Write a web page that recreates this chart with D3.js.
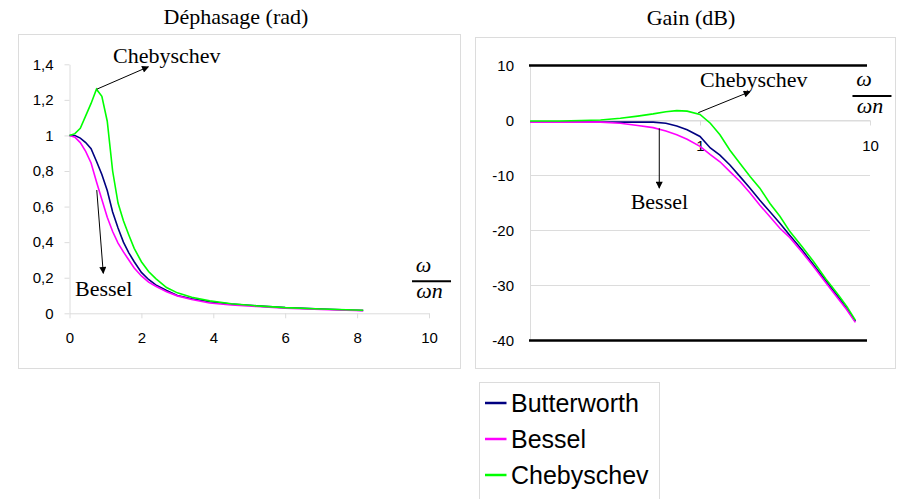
<!DOCTYPE html>
<html>
<head>
<meta charset="utf-8">
<script src="https://cdn.jsdelivr.net/npm/d3@7"></script>
<style>
  html, body { margin: 0; padding: 0; background: #fff; }
  svg { display: block; }
</style>
</head>
<body>
<svg id="chart" width="912" height="499"></svg>
<script>
// ---------------- DATA ----------------
const seriesNames = ["Butterworth", "Bessel", "Chebyschev"];
const seriesColors = ["#000080", "#ff00ff", "#00ff00"];

// Phase chart (Déphasage, rad) vs ω/ωn (linear)
const phaseX = [0, 0.15, 0.3, 0.45, 0.6, 0.75, 0.9, 1.05, 1.2, 1.35, 1.5, 1.65, 1.8, 2.0, 2.2, 2.4, 2.7, 3.0, 3.4, 3.9, 4.5, 5.2, 6.0, 7.0, 8.17];
const phaseButterworth = [1.0, 1.0, 0.985, 0.96, 0.925, 0.855, 0.78, 0.69, 0.57, 0.48, 0.40, 0.34, 0.29, 0.23, 0.19, 0.16, 0.128, 0.10, 0.082, 0.065, 0.052, 0.042, 0.032, 0.024, 0.016];
const phaseBessel      = [1.0, 0.99, 0.96, 0.91, 0.845, 0.74, 0.64, 0.54, 0.46, 0.395, 0.345, 0.30, 0.255, 0.21, 0.175, 0.152, 0.121, 0.098, 0.078, 0.058, 0.047, 0.038, 0.029, 0.021, 0.015];
const phaseChebyschev  = [1.0, 1.01, 1.04, 1.11, 1.18, 1.26, 1.22, 1.08, 0.80, 0.62, 0.52, 0.44, 0.365, 0.29, 0.235, 0.195, 0.145, 0.115, 0.09, 0.07, 0.054, 0.042, 0.032, 0.024, 0.017];
const phaseXTicks = [0, 2, 4, 6, 8, 10];
const phaseYTicks = [0, 0.2, 0.4, 0.6, 0.8, 1, 1.2, 1.4];

// Gain chart (dB) vs ω/ωn (log)
const gainX = [0.1, 0.15, 0.2, 0.26, 0.34, 0.43, 0.53, 0.63, 0.73, 0.84, 1, 1.15, 1.31, 1.5, 1.72, 1.97, 2.25, 2.58, 2.95, 3.38, 4, 4.64, 5.5, 6.5, 7.3, 8.2];
const gainButterworth = [-0.3, -0.3, -0.3, -0.3, -0.3, -0.3, -0.3, -0.5, -1.0, -1.7, -2.9, -5.0, -6.3, -8.1, -10.2, -12.3, -14.5, -16.6, -18.7, -20.9, -23.6, -26.2, -29.2, -32.1, -34.2, -36.5];
const gainBessel      = [-0.3, -0.3, -0.3, -0.3, -0.5, -0.9, -1.3, -1.9, -2.6, -3.4, -4.7, -6.2, -7.5, -9.3, -11.1, -13.2, -15.4, -17.5, -19.6, -21.3, -24.0, -26.5, -29.5, -32.4, -34.4, -36.7];
const gainChebyschev  = [-0.1, -0.1, 0, 0.1, 0.4, 0.8, 1.2, 1.6, 1.8, 1.7, 1.1, -0.5, -2.6, -5.4, -7.8, -10.2, -12.3, -15.1, -17.4, -20.2, -23.0, -25.6, -28.8, -31.7, -33.8, -36.3];
const gainXTicks = [1, 10];
const gainYTicks = [10, 0, -10, -20, -30, -40];
const gainFrameLines = [10, -40];

// Annotations (in data coordinates)
const phaseAnnotations = [
  { text: "Chebyschev", x: 1.21, y: 1.409, from: [0.76, 1.26], to: [2.195, 1.386] },
  { text: "Bessel", x: 0.153, y: 0.097, from: [0.758, 0.693], to: [0.94, 0.225] }
];
const gainAnnotations = [
  { text: "Chebyschev", x: 1.0, y: 6.1, from: [0.977, 1.42], to: [1.97, 5.24] },
  { text: "Bessel", x: 0.391, y: -16.1, from: [0.576, -1.42], to: [0.576, -12.3] }
];
const phaseFraction = { x: 10.07, num: 0.235, bar: 0.18, den: 0.085 };
const gainFraction = { x: 10.27, num: 6.3, bar: 4.45, den: 1.3 };

// ---------------- DRAW ----------------
const svg = d3.select("#chart");
const SERIF = "'Liberation Serif', 'Times New Roman', serif";
const SANS = "'Liberation Sans', Arial, sans-serif";
const GRID = "#dcdcdc";

const defs = svg.append("defs");
defs.append("marker")
  .attr("id", "arrow")
  .attr("viewBox", "0 0 10 10")
  .attr("refX", 9).attr("refY", 5)
  .attr("markerWidth", 9).attr("markerHeight", 7)
  .attr("markerUnits", "userSpaceOnUse")
  .attr("orient", "auto")
  .append("path").attr("d", "M0,0 L10,5 L0,10 Z").attr("fill", "#000");

// Panel frames
svg.append("rect").attr("x", 18.5).attr("y", 34.5).attr("width", 442).attr("height", 334)
  .attr("fill", "none").attr("stroke", GRID);
svg.append("rect").attr("x", 475.5).attr("y", 37.5).attr("width", 420).attr("height", 331)
  .attr("fill", "none").attr("stroke", GRID);

// Titles
svg.append("text").attr("x", 236).attr("y", 24).attr("text-anchor", "middle")
  .attr("font-family", SERIF).attr("font-size", 22).text("Déphasage (rad)");
svg.append("text").attr("x", 691).attr("y", 25).attr("text-anchor", "middle")
  .attr("font-family", SERIF).attr("font-size", 22).text("Gain (dB)");

function styleAxis(g) {
  g.select(".domain").attr("stroke", GRID);
  g.selectAll(".tick line").attr("stroke", GRID);
  g.selectAll(".tick text").attr("font-family", SANS).attr("font-size", 15).attr("fill", "#000");
}

// ----- Phase chart -----
const px = d3.scaleLinear().domain([0, 10]).range([69.5, 429]);
const py = d3.scaleLinear().domain([0, 1.4]).range([313.3, 64.3]);
const fmtComma = d => String(d).replace(".", ",");

svg.append("g").attr("transform", `translate(0,${py(0)})`)
  .call(d3.axisBottom(px).tickValues(phaseXTicks).tickSize(5).tickPadding(14).tickSizeOuter(0).tickFormat(d => d))
  .call(styleAxis);
svg.append("g").attr("transform", `translate(${px(0)},0)`)
  .call(d3.axisLeft(py).tickValues(phaseYTicks).tickSize(5).tickPadding(11).tickSizeOuter(0).tickFormat(fmtComma))
  .call(styleAxis);

const phaseSeries = [phaseButterworth, phaseBessel, phaseChebyschev];
const phaseLine = d3.line().x((d, i) => px(phaseX[i])).y(d => py(d));
phaseSeries.forEach((s, k) => {
  svg.append("path").datum(s).attr("d", phaseLine)
    .attr("fill", "none").attr("stroke", seriesColors[k]).attr("stroke-width", 1.6);
});

phaseAnnotations.forEach(a => {
  svg.append("text").attr("x", px(a.x)).attr("y", py(a.y))
    .attr("font-family", SERIF).attr("font-size", 22).text(a.text);
  svg.append("line")
    .attr("x1", px(a.from[0])).attr("y1", py(a.from[1]))
    .attr("x2", px(a.to[0])).attr("y2", py(a.to[1]))
    .attr("stroke", "#000").attr("stroke-width", 1).attr("marker-end", "url(#arrow)");
});

function drawFraction(cx, yNum, yBar, yDen) {
  svg.append("text").attr("x", cx - 8).attr("y", yNum).attr("text-anchor", "middle")
    .attr("font-family", SERIF).attr("font-style", "italic").attr("font-size", 22).text("ω");
  svg.append("line").attr("x1", cx - 19.5).attr("x2", cx + 19.5).attr("y1", yBar).attr("y2", yBar)
    .attr("stroke", "#000").attr("stroke-width", 2);
  svg.append("text").attr("x", cx - 2).attr("y", yDen).attr("text-anchor", "middle")
    .attr("font-family", SERIF).attr("font-style", "italic").attr("font-size", 22).text("ωn");
}
drawFraction(px(phaseFraction.x), py(phaseFraction.num), py(phaseFraction.bar), py(phaseFraction.den));

// ----- Gain chart -----
const gx = d3.scaleLog().domain([0.1, 10]).range([530, 870]);
const gy = d3.scaleLinear().domain([-40, 10]).range([340.5, 65.5]);

// gridlines
svg.append("g").selectAll("line").data(gainYTicks.filter(v => !gainFrameLines.includes(v)))
  .join("line")
  .attr("x1", gx(0.1)).attr("x2", gx(10))
  .attr("y1", d => gy(d)).attr("y2", d => gy(d))
  .attr("stroke", GRID);
// y axis
svg.append("g").attr("transform", `translate(${gx(0.1)},0)`)
  .call(d3.axisLeft(gy).tickValues(gainYTicks).tickSize(0).tickPadding(16).tickSizeOuter(0).tickFormat(d => d))
  .call(styleAxis);
// x axis on 0 dB line
svg.append("g").attr("transform", `translate(0,${gy(0)})`)
  .call(d3.axisBottom(gx).tickValues(gainXTicks).tickSize(5).tickPadding(15).tickSizeOuter(0).tickFormat(d => d))
  .call(styleAxis);
// black frame lines
svg.append("g").selectAll("line").data(gainFrameLines).join("line")
  .attr("x1", gx(0.1) - 1).attr("x2", gx(10) - 3)
  .attr("y1", d => gy(d)).attr("y2", d => gy(d))
  .attr("stroke", "#000").attr("stroke-width", 2.7);

const gainSeries = [gainButterworth, gainBessel, gainChebyschev];
const gainLine = d3.line().x((d, i) => gx(gainX[i])).y(d => gy(d));
gainSeries.forEach((s, k) => {
  svg.append("path").datum(s).attr("d", gainLine)
    .attr("fill", "none").attr("stroke", seriesColors[k]).attr("stroke-width", 1.6);
});

gainAnnotations.forEach(a => {
  svg.append("text").attr("x", gx(a.x)).attr("y", gy(a.y))
    .attr("font-family", SERIF).attr("font-size", 22).text(a.text);
  svg.append("line")
    .attr("x1", gx(a.from[0])).attr("y1", gy(a.from[1]))
    .attr("x2", gx(a.to[0])).attr("y2", gy(a.to[1]))
    .attr("stroke", "#000").attr("stroke-width", 1).attr("marker-end", "url(#arrow)");
});
drawFraction(gx(gainFraction.x), gy(gainFraction.num), gy(gainFraction.bar), gy(gainFraction.den));

// ----- Legend -----
const legend = svg.append("g").attr("transform", "translate(479.5,382.5)");
legend.append("rect").attr("width", 180).attr("height", 130)
  .attr("fill", "#fff").attr("stroke", GRID);
seriesNames.forEach((name, i) => {
  const yy = 20.5 + i * 36;
  legend.append("line").attr("x1", 5.5).attr("x2", 27).attr("y1", yy).attr("y2", yy)
    .attr("stroke", seriesColors[i]).attr("stroke-width", 2.5);
  legend.append("text").attr("x", 31.5).attr("y", yy + 9)
    .attr("font-family", SANS).attr("font-size", 25).text(name);
});
</script>
</body>
</html>
